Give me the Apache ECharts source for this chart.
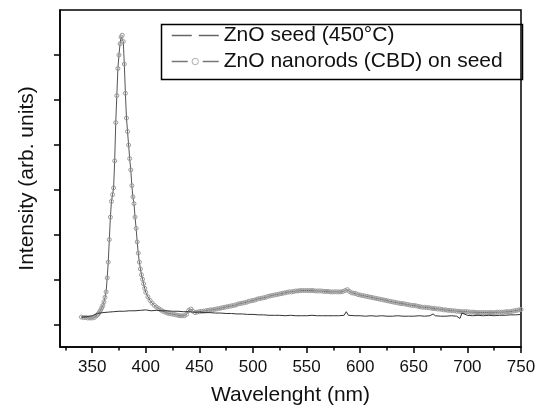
<!DOCTYPE html>
<html>
<head>
<meta charset="utf-8">
<script src="https://cdn.jsdelivr.net/npm/echarts@6/dist/echarts.min.js"></script>
<style>
html,body{margin:0;padding:0;background:#fff;}
#c{width:544px;height:411px;}
</style>
</head>
<body>
<div id="c"></div>
<script>
// ---- Data ----
const seriesNames = ['ZnO seed (450°C)', 'ZnO nanorods (CBD) on seed'];
const majorTicks = [350, 400, 450, 500, 550, 600, 650, 700, 750];
const minorTicks = [325, 375, 425, 475, 525, 575, 625, 675, 725];
const yTicks = [0, 1, 2, 3, 4, 5, 6];

const seedWl = [340,345,350,355,360,365,370,375,380,385,390,395,400,405,410,415,420,425,430,435,440,445,450,455,460,465,470,475,480,485,490,495,500,505,510,515,520,525,530,535,540,545,550,555,560,565,570,575,580,585,587,589,595,600,605,610,615,620,625,630,635,640,645,650,655,660,665,668,670,675,680,685,690,693,695,700,705,710,715,720,725,730,735,740,745,750];
const seedInt = [0.18,0.19,0.21,0.26,0.28,0.29,0.30,0.31,0.31,0.32,0.32,0.33,0.34,0.32,0.33,0.32,0.32,0.31,0.31,0.30,0.30,0.29,0.29,0.28,0.28,0.27,0.27,0.26,0.26,0.25,0.25,0.24,0.24,0.23,0.23,0.22,0.22,0.22,0.21,0.22,0.21,0.21,0.21,0.22,0.21,0.21,0.21,0.21,0.21,0.22,0.30,0.22,0.21,0.21,0.20,0.21,0.20,0.21,0.20,0.20,0.21,0.20,0.20,0.20,0.21,0.20,0.21,0.25,0.21,0.20,0.20,0.21,0.20,0.15,0.27,0.22,0.21,0.22,0.21,0.22,0.21,0.22,0.22,0.23,0.23,0.24];

const rodWl = [340,342,344,346,348,350,352,354,
355,356,357,358,359,360,361,362,363,364,365,366,367,368,369,370,371,372,373,374,375,376,377,378,379,380,381,382,383,384,385,386,387,388,389,390,391,392,393,394,395,396,397,398,399,
400,402,404,406,408,410,412,414,416,418,420,422,424,426,428,430,432,434,436,438,440,442,444,446,448,450,
452,454,456,458,460,462,464,466,468,470,472,474,476,478,480,482,484,486,488,490,492,494,496,498,500,
502,504,506,508,510,512,514,516,518,520,522,524,526,528,530,532,534,536,538,540,542,544,546,548,550,
552,554,556,558,560,562,564,566,568,570,572,574,576,578,580,582,584,586,588,590,592,594,596,598,600,
602,604,606,608,610,612,614,616,618,620,622,624,626,628,630,632,634,636,638,640,642,644,646,648,650,
652,654,656,658,660,662,664,666,668,670,672,674,676,678,680,682,684,686,688,690,692,694,696,698,700,
702,704,706,708,710,712,714,716,718,720,722,724,726,728,730,732,734,736,738,740,742,744,746,748,750];
const rodInt = [0.18,0.17,0.17,0.16,0.16,0.16,0.17,0.21,
0.23,0.26,0.30,0.34,0.39,0.44,0.52,0.62,0.74,1.05,1.40,1.90,2.40,2.75,2.90,3.05,3.65,4.50,5.10,5.70,6.00,6.25,6.40,6.44,6.30,5.80,5.15,4.60,4.30,4.00,3.70,3.45,3.10,2.85,2.70,2.40,2.15,1.85,1.60,1.40,1.25,1.12,1.02,0.92,0.82,
0.73,0.63,0.55,0.49,0.44,0.40,0.37,0.34,0.31,0.29,0.27,0.26,0.25,0.24,0.23,0.22,0.21,0.21,0.21,0.24,0.33,0.36,0.31,0.28,0.29,0.30,
0.31,0.31,0.32,0.33,0.34,0.34,0.35,0.36,0.37,0.38,0.39,0.40,0.41,0.42,0.43,0.44,0.45,0.47,0.48,0.49,0.50,0.51,0.53,0.54,0.55,
0.56,0.58,0.59,0.60,0.61,0.62,0.64,0.65,0.66,0.67,0.68,0.69,0.70,0.71,0.72,0.73,0.74,0.74,0.75,0.76,0.76,0.77,0.77,0.77,0.77,
0.77,0.77,0.77,0.76,0.76,0.76,0.76,0.75,0.75,0.75,0.74,0.74,0.74,0.74,0.74,0.74,0.75,0.77,0.79,0.75,0.72,0.71,0.70,0.68,0.67,
0.66,0.65,0.64,0.63,0.62,0.61,0.60,0.59,0.58,0.57,0.56,0.55,0.54,0.53,0.52,0.51,0.50,0.49,0.48,0.48,0.47,0.46,0.45,0.44,0.44,
0.43,0.42,0.41,0.40,0.40,0.39,0.39,0.38,0.37,0.37,0.36,0.36,0.35,0.34,0.34,0.33,0.33,0.32,0.32,0.31,0.31,0.30,0.30,0.30,0.30,
0.29,0.29,0.29,0.28,0.28,0.28,0.28,0.28,0.28,0.28,0.28,0.28,0.28,0.29,0.29,0.29,0.29,0.30,0.30,0.30,0.31,0.32,0.33,0.34,0.35];

// ---- Chart ----
const zip = (xs, ys) => xs.map((x, i) => [x, ys[i]]);
const txt = '#111';
const font = 'Liberation Sans, Arial, sans-serif';
const G = {left: 60, top: 10, right: 23, bottom: 61};

const chart = echarts.init(document.getElementById('c'), null, {renderer: 'canvas'});
chart.setOption({
  animation: false,
  backgroundColor: '#fff',
  textStyle: {fontFamily: font, color: txt},
  grid: Object.assign({show: true, borderColor: '#000', borderWidth: 1.5, containLabel: false}, G),
  xAxis: [{
    type: 'value', min: 320, max: 750, position: 'bottom',
    splitLine: {show: false},
    axisLine: {show: true, onZero: false, lineStyle: {color: '#000', width: 1.5}},
    axisTick: {show: true, customValues: majorTicks, length: 6, lineStyle: {color: '#000', width: 1.5}},
    axisLabel: {show: true, customValues: majorTicks, fontSize: 17, color: txt, margin: 12, fontFamily: font},
    name: 'Wavelenght (nm)', nameLocation: 'middle', nameGap: 38,
    nameTextStyle: {fontSize: 21, color: txt, fontFamily: font}
  }, {
    type: 'value', min: 320, max: 750, position: 'bottom',
    splitLine: {show: false},
    axisLine: {show: false, onZero: false},
    axisTick: {show: true, customValues: minorTicks, length: 3.5, lineStyle: {color: '#000', width: 1.5}},
    axisLabel: {show: false}
  }],
  yAxis: [{
    type: 'value', min: -0.484, max: 7,
    splitLine: {show: false},
    axisLine: {show: true, onZero: false, lineStyle: {color: '#000', width: 1.5}},
    axisTick: {show: true, customValues: yTicks, length: 6, lineStyle: {color: '#000', width: 1.5}},
    axisLabel: {show: false},
    name: 'Intensity (arb. units)', nameLocation: 'middle', nameGap: 22,
    nameTextStyle: {fontSize: 21, color: txt, fontFamily: font}
  }],
  legend: {
    orient: 'vertical', left: 171, top: 25, padding: 0, itemGap: 5,
    itemWidth: 47, itemHeight: 8,
    textStyle: {fontSize: 21, color: txt, fontFamily: font},
    data: [
      {name: seriesNames[0], lineStyle: {type: [20, 7], color: '#666', width: 1.5},
       itemStyle: {color: 'rgba(0,0,0,0)', borderColor: 'rgba(0,0,0,0)', borderWidth: 0}},
      {name: seriesNames[1], lineStyle: {type: [16, 15], color: '#777', width: 1.5},
       itemStyle: {color: '#fff', borderColor: '#aaa', borderWidth: 1}}
    ]
  },
  graphic: [{
    type: 'rect', left: 159, top: 22, shape: {width: 361, height: 55},
    style: {fill: 'none', stroke: '#000', lineWidth: 1.5}, z: 10
  }],
  series: [{
    name: seriesNames[0], type: 'line', xAxisIndex: 0, yAxisIndex: 0,
    data: zip(seedWl, seedInt), showSymbol: false, symbol: 'none',
    lineStyle: {color: '#333', width: 1}, itemStyle: {color: '#333'}, z: 3
  }, {
    name: seriesNames[1], type: 'line', xAxisIndex: 0, yAxisIndex: 0,
    data: zip(rodWl, rodInt), symbol: 'circle', symbolSize: 4, showSymbol: true,
    lineStyle: {color: '#555', width: 1},
    itemStyle: {color: 'rgba(255,255,255,0)', borderColor: '#9a9a9a', borderWidth: 1}, z: 2
  }]
});
</script>
</body>
</html>
